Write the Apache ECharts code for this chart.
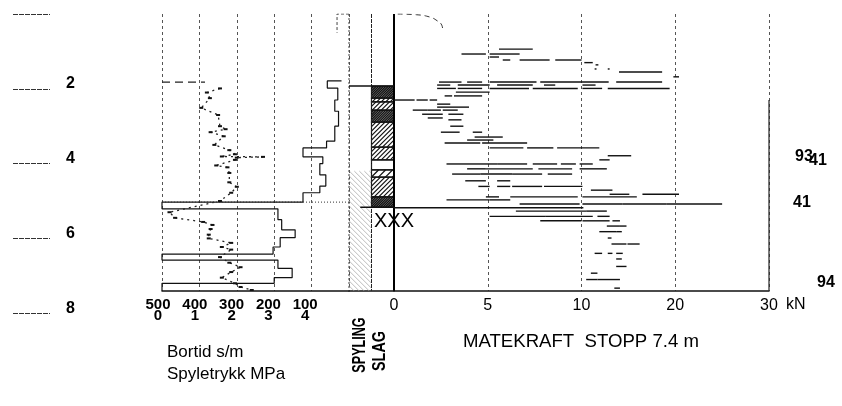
<!DOCTYPE html>
<html><head><meta charset="utf-8">
<script src="https://cdn.jsdelivr.net/npm/echarts@6.0.0/dist/echarts.min.js"></script>
<style>html,body{margin:0;padding:0;background:#fff}#c{width:842px;height:406px}</style>
</head><body><div id="c"></div>
<script>
// ---------------- DATA ----------------
const depthStop = 7.4;
const bortidTickLabels = ['500', '400', '300', '200', '100'];
const spyTickLabels = ['0', '1', '2', '3', '4'];
const mateTickLabels = ['0', '5', '10', '20', '30'];

// Bortid (s/m) vs depth (m)
const bortDepth = [1.99, 2.10, 2.25, 2.51, 2.70, 3.00, 3.08, 3.16, 3.27, 3.50, 3.64, 3.75, 3.81, 3.82, 3.84, 3.90, 4.05, 4.10, 4.25, 4.50, 4.62, 4.78, 5.00, 5.30, 5.45, 5.56, 5.64, 5.75, 5.90, 6.00, 6.12, 6.23, 6.30, 6.50, 6.65, 6.77, 6.90, 7.05, 7.20, 7.30, 7.38];
const bortValue = [345, 380, 372, 395, 350, 345, 330, 370, 335, 360, 320, 305, 340, 230, 300, 305, 355, 325, 320, 320, 300, 315, 345, 480, 465, 390, 365, 370, 375, 375, 315, 340, 315, 345, 320, 290, 315, 340, 305, 290, 260];
const bortTopDepth = [1.82, 1.82];
const bortTopValue = [500, 385];

// Spyletrykk (MPa) vs depth (m)
const spyDepth = [1.79, 1.79, 1.98, 1.98, 2.30, 2.30, 2.60, 2.60, 3.00, 3.00, 3.40, 3.40, 3.58, 3.58, 3.82, 3.82, 4.00, 4.00, 4.30, 4.30, 4.60, 4.60, 4.78, 4.78, 5.03, 5.03, 5.21, 5.21, 5.50, 5.50, 5.77, 5.77, 5.98, 5.98, 6.23, 6.23, 6.42, 6.42, 6.58, 6.58, 6.80, 6.80, 7.05, 7.05, 7.20, 7.20, 7.40];
const spyValue = [4.80, 4.42, 4.42, 4.70, 4.70, 4.62, 4.62, 4.72, 4.72, 4.62, 4.62, 4.40, 4.40, 3.77, 3.77, 4.30, 4.30, 4.22, 4.22, 4.38, 4.38, 4.22, 4.22, 3.77, 3.77, 0, 0, 3.10, 3.10, 3.20, 3.20, 3.56, 3.56, 3.16, 3.16, 2.97, 2.97, 0, 0, 3.10, 3.10, 3.48, 3.48, 3.00, 3.00, 0, 0];
const spyTopDepth = [0.0, 0.0, 0.5];
const spyTopValue = [5.0, 4.68, 4.68];

// Slag column layers: from, to (m), hatch class (0 none,1 light,2 normal,3 dense)
const slagFrom = [1.93, 2.25, 2.35, 2.57, 2.89, 3.56, 3.90, 4.17, 4.36, 4.89];
const slagTo   = [2.25, 2.35, 2.57, 2.89, 3.56, 3.90, 4.17, 4.36, 4.89, 5.16];
const slagClass = [3, 2, 2, 3, 2, 2, 0, 1, 2, 3];
// Spyling column (flushing on)
const spylingFrom = [4.2];
const spylingTo = [7.4];

// Matekraft (kN) horizontal traces at depth
const mateDepth = [0.94, 1.07, 1.07, 1.15, 1.23, 1.23, 1.23, 1.30, 1.36, 1.47, 1.47, 1.55, 1.68,
  1.82, 1.82, 1.82, 1.82, 1.82, 1.90, 1.90, 1.90, 1.90, 1.90, 1.99, 1.99, 1.99, 1.99, 1.99, 1.99,
  2.09, 2.19, 2.19, 2.30, 2.30, 2.30, 2.41, 2.49, 2.57, 2.57, 2.57, 2.68, 2.68, 2.78, 2.83, 3.00,
  3.16, 3.16, 3.29, 3.37, 3.45, 3.45, 3.58, 3.58, 3.58, 3.79, 3.90,
  4.01, 4.01, 4.01, 4.01, 4.01, 4.01, 4.14, 4.14, 4.14, 4.14, 4.28, 4.28, 4.28, 4.28, 4.46, 4.46,
  4.61, 4.61, 4.61, 4.61, 4.71, 4.82, 4.82, 4.89, 4.89, 4.89, 4.97, 4.97, 5.08, 5.08, 5.08, 5.08,
  5.18, 5.27, 5.27, 5.41, 5.41, 5.41, 5.53, 5.53, 5.53, 5.67, 5.67, 5.82, 5.82, 5.99, 6.15, 6.15,
  6.40, 6.40, 6.40, 6.55, 6.75, 6.93, 7.10, 7.10, 7.33];
const mateFrom = [5.6, 3.6, 5.1, 5.1, 5.8, 6.7, 8.6, 10.3, 11.5, 11.4, 12.8, 14.0, 19.8,
  2.4, 3.9, 5.1, 7.8, 13.7, 2.3, 3.4, 5.5, 8.0, 10.1, 2.3, 3.4, 5.1, 7.4, 10.1, 12.8,
  3.3, 2.7, 3.2, 0.0, 1.2, 1.9, 2.3, 2.3, 1.0, 1.8, 2.6, 1.5, 2.9, 1.8, 2.9, 3.0,
  2.5, 4.2, 4.3, 3.9, 2.7, 4.7, 5.1, 7.1, 8.7, 12.8, 11.9,
  2.8, 4.0, 5.5, 7.4, 8.9, 9.9, 3.9, 4.9, 7.7, 9.9, 3.1, 4.6, 6.3, 8.2, 3.8, 5.5,
  4.5, 5.5, 6.3, 8.0, 11.0, 13.0, 16.5, 4.9, 6.2, 10.1, 2.8, 5.1, 6.7, 10.1, 14.4, 19.1,
  0.0, 6.5, 10.5, 5.1, 8.1, 11.7, 7.8, 10.1, 13.3, 12.7, 14.1, 11.9, 13.7, 12.8, 13.2, 14.9,
  11.4, 12.8, 13.7, 13.7, 13.7, 11.0, 10.5, 11.7, 13.5];
const mateTo = [7.4, 4.9, 6.7, 5.6, 6.2, 8.3, 10.0, 11.2, 11.8, 11.6, 13.0, 18.6, 20.4,
  3.6, 4.7, 7.6, 12.9, 18.6, 3.0, 5.1, 7.4, 8.6, 11.5, 3.3, 4.7, 7.2, 9.8, 12.2, 19.4,
  5.1, 3.1, 4.7, 1.1, 1.8, 2.3, 3.0, 4.0, 1.8, 2.5, 3.4, 2.6, 3.7, 2.6, 3.6, 3.7,
  3.5, 4.7, 5.8, 5.3, 4.6, 7.1, 6.9, 8.5, 11.9, 15.3, 13.0,
  4.0, 5.5, 7.1, 8.7, 9.7, 11.2, 4.9, 7.4, 9.5, 12.7, 4.6, 6.3, 7.9, 9.5, 4.9, 6.2,
  5.1, 6.2, 7.9, 10.1, 13.3, 15.1, 20.4, 5.6, 9.8, 15.9, 5.1, 6.2, 9.9, 14.4, 19.1, 25.0,
  10.2, 10.5, 12.7, 8.1, 11.2, 13.0, 10.0, 13.0, 14.1, 14.1, 14.8, 13.7, 14.3, 13.2, 14.8, 16.2,
  12.2, 13.3, 14.4, 14.3, 14.8, 11.7, 11.7, 14.1, 14.1];
const mateTopDepth = [0.0, 0.02, 0.08, 0.18, 0.30, 0.43];
const mateTopValue = [0.2, 1.2, 1.9, 2.3, 2.55, 2.6];

// Depth annotations at right
const annDepth = [3.80, 3.92, 5.03, 7.18];
const annText = ['93', '41', '41', '94'];

// ---------------- CHART ----------------
const SANS = '"Liberation Sans",Arial,sans-serif';
const PXM = 37.4, TOP = 14, H = depthStop * PXM;

// matekraft axis: linear 0-10 kN, half scale 10-30 kN
const tf = v => v <= 10 ? v : 10 + (v - 10) / 2;

function segItem(params, api) {
  const d = api.value(0), a = api.value(1), b = api.value(2);
  const p1 = api.coord([a, d]), p2 = api.coord([b, d]);
  return { type: 'line', shape: { x1: p1[0], y1: p1[1], x2: p2[0], y2: p2[1] },
    style: { stroke: '#111', lineWidth: 1.4 } };
}
function hatch(x0, y0, x1, y1, sp, dir, stroke, lw) {
  const out = [], h = y1 - y0;
  for (let s = x0 - h; s < x1; s += sp) {
    const xa = Math.max(x0, s), xb = Math.min(x1, s + h);
    if (xa >= xb) continue;
    let ya, yb;
    if (dir === '/') { ya = y1 - (xa - s); yb = y1 - (xb - s); }
    else { ya = y0 + (xa - s); yb = y0 + (xb - s); }
    out.push({ type: 'line', shape: { x1: xa, y1: ya, x2: xb, y2: yb }, style: { stroke, lineWidth: lw } });
  }
  return out;
}
const spacing = [0, 7, 4.5, 2.4];

const chart = echarts.init(document.getElementById('c'), null, { renderer: 'canvas' });
const grids = [
  { left: 13, top: TOP, width: 37, height: 8 * PXM },     // depth ticks
  { left: 162, top: TOP, width: 187, height: H },         // bortid / spyletrykk
  { left: 349, top: TOP, width: 45, height: H },          // spyling / slag
  { left: 394, top: TOP, width: 375, height: H },         // matekraft
  { left: 158, top: TOP, width: 184, height: H }          // bortid tick labels
];
const hiddenY = (gi, max) => ({ type: 'value', gridIndex: gi, inverse: true, min: 0, max: max, show: false });
const baseLine = { show: true, onZero: false, lineStyle: { color: '#111', width: 1.5 } };
const numLabel = { margin: 7, fontFamily: SANS, fontSize: 15, fontWeight: 'bold', color: '#000',
  showMinLabel: true, showMaxLabel: true, hideOverlap: false };

const option = {
  animation: false,
  backgroundColor: '#fff',
  grid: grids,
  xAxis: [
    { type: 'value', gridIndex: 0, min: 0, max: 1, show: false },
    { type: 'value', gridIndex: 1, min: 0, max: 500, interval: 100, inverse: true, position: 'bottom',
      axisLine: baseLine, axisTick: { show: false }, axisLabel: { show: false },
      splitLine: { show: true, lineStyle: { color: '#555', type: [3, 3], width: 1 } } },
    { type: 'value', gridIndex: 1, min: 0, max: 5, show: false, position: 'bottom' },
    { type: 'value', gridIndex: 2, min: 0, max: 2, position: 'bottom', axisTick: { show: false }, axisLabel: { show: false },
      axisLine: baseLine, splitLine: { show: false } },
    { type: 'value', gridIndex: 3, min: 0, max: 20, interval: 5, position: 'bottom',
      axisLine: baseLine, axisTick: { show: false },
      axisLabel: { margin: 7, fontFamily: SANS, fontSize: 16, color: '#000', showMinLabel: true, showMaxLabel: true,
        formatter: v => mateTickLabels[Math.round(v / 5)] },
      splitLine: { show: true, lineStyle: { color: '#555', type: [3, 3], width: 1 } } },
    { type: 'value', gridIndex: 4, min: 0, max: 500, interval: 100, inverse: true, position: 'bottom',
      axisLine: { show: false, onZero: false }, axisTick: { show: false }, splitLine: { show: false },
      axisLabel: Object.assign({}, numLabel, { formatter: v => v === 0 ? '' : bortidTickLabels[5 - v / 100] }) },
    { type: 'value', gridIndex: 4, min: 0, max: 5, interval: 1, offset: 11, position: 'bottom',
      axisLine: { show: false, onZero: false }, axisTick: { show: false }, splitLine: { show: false },
      axisLabel: Object.assign({}, numLabel, { formatter: v => v === 5 ? '' : spyTickLabels[v] }) }
  ],
  yAxis: [
    { type: 'value', gridIndex: 0, inverse: true, min: 0, max: 8, interval: 2, position: 'right',
      axisLine: { show: false }, axisTick: { show: false },
      splitLine: { show: true, lineStyle: { color: '#333', width: 1, type: [5, 1] } },
      axisLabel: { margin: 16, fontFamily: SANS, fontSize: 16, fontWeight: 'bold', color: '#000',
        verticalAlign: 'bottom', lineHeight: 10, formatter: v => v === 0 ? '' : String(v) } },
    hiddenY(1, depthStop), hiddenY(2, depthStop), hiddenY(3, depthStop), hiddenY(4, depthStop)
  ],
  series: [
    // spyletrykk step curve
    { type: 'line', xAxisIndex: 2, yAxisIndex: 1, showSymbol: false, silent: true,
      data: spyDepth.map((d, i) => [spyValue[i], d]),
      lineStyle: { color: '#111', width: 1.2 } },
    { type: 'line', xAxisIndex: 2, yAxisIndex: 1, showSymbol: false, silent: true,
      data: spyTopDepth.map((d, i) => [spyTopValue[i], d]),
      lineStyle: { color: '#444', width: 1, type: [3, 2] } },
    // bortid
    { type: 'line', xAxisIndex: 1, yAxisIndex: 1, silent: true,
      symbol: 'rect', symbolSize: [4, 2], itemStyle: { color: '#111' },
      data: bortDepth.map((d, i) => [bortValue[i], d]),
      lineStyle: { color: '#222', width: 1.3, type: [2, 4] } },
    { type: 'line', xAxisIndex: 1, yAxisIndex: 1, showSymbol: false, silent: true,
      data: bortTopDepth.map((d, i) => [bortTopValue[i], d]),
      lineStyle: { color: '#222', width: 1.2, type: [8, 5] } },
    // dotted marker line at 5.03 across bortid panel
    { type: 'line', xAxisIndex: 1, yAxisIndex: 1, showSymbol: false, silent: true,
      data: [[500, 5.03], [0, 5.03]], lineStyle: { color: '#333', width: 1, type: [1, 2] } },
    // spyling hatch
    { type: 'custom', xAxisIndex: 3, yAxisIndex: 2, silent: true,
      data: spylingFrom.map((f, i) => [f, spylingTo[i]]),
      renderItem: (params, api) => {
        const p0 = api.coord([0, api.value(0)]), p1 = api.coord([1, api.value(1)]);
        return { type: 'group', children: hatch(p0[0], p0[1], p1[0], p1[1], 5, '\\', '#aaa', 0.8) };
      } },
    // slag layers
    { type: 'custom', xAxisIndex: 3, yAxisIndex: 2, silent: true,
      data: slagFrom.map((f, i) => [f, slagTo[i], slagClass[i]]),
      renderItem: (params, api) => {
        const p0 = api.coord([1, api.value(0)]), p1 = api.coord([2, api.value(1)]);
        const c = api.value(2);
        const kids = [{ type: 'rect', shape: { x: p0[0], y: p0[1], width: p1[0] - p0[0], height: p1[1] - p0[1] },
          style: { fill: c === 3 ? 'rgba(0,0,0,0.45)' : 'none', stroke: '#111', lineWidth: 1.2 } }];
        if (c > 0) kids.push(...hatch(p0[0], p0[1], p1[0], p1[1], spacing[c], '/', '#111', c === 3 ? 1.3 : 1.2));
        return { type: 'group', children: kids };
      } },
    // column edges
    { type: 'custom', xAxisIndex: 3, yAxisIndex: 2, silent: true,
      data: [[0], [1], [2]],
      renderItem: (params, api) => {
        const v = api.value(0);
        const a = api.coord([v, 0]), b = api.coord([v, depthStop]);
        const st = [{ stroke: '#444', lineWidth: 1, lineDash: [2, 2] },
                    { stroke: '#222', lineWidth: 1, lineDash: [4, 1] },
                    { stroke: '#000', lineWidth: 2 }][params.dataIndex];
        return { type: 'line', shape: { x1: a[0], y1: a[1], x2: b[0], y2: b[1] }, style: st };
      } },
    // column horizontal lines (slag top, stop line)
    { type: 'custom', xAxisIndex: 3, yAxisIndex: 2, silent: true,
      data: [[1.925, 0, 2], [5.17, 0.5, 2]],
      renderItem: (params, api) => {
        const a = api.coord([api.value(1), api.value(0)]), b = api.coord([api.value(2), api.value(0)]);
        return { type: 'line', shape: { x1: a[0], y1: a[1], x2: b[0], y2: b[1] }, style: { stroke: '#111', lineWidth: 1.5 } };
      } },
    // matekraft segments
    { type: 'custom', xAxisIndex: 4, yAxisIndex: 3, silent: true,
      data: mateDepth.map((d, i) => [d, tf(mateFrom[i]), tf(mateTo[i])]),
      renderItem: segItem },
    { type: 'line', xAxisIndex: 4, yAxisIndex: 3, showSymbol: false, silent: true, smooth: true,
      data: mateTopDepth.map((d, i) => [tf(mateTopValue[i]), d]),
      lineStyle: { color: '#333', width: 1, type: [5, 4] } },
    // 30 kN boundary (solid lower part)
    { type: 'custom', xAxisIndex: 4, yAxisIndex: 3, silent: true,
      data: [[2.3, 20, 7.4]],
      renderItem: (params, api) => {
        const a = api.coord([api.value(1), api.value(0)]), b = api.coord([api.value(1), api.value(2)]);
        return { type: 'line', shape: { x1: a[0], y1: a[1], x2: b[0], y2: b[1] }, style: { stroke: '#222', lineWidth: 1.2 } };
      } }
  ],
  graphic: [
    { type: 'text', x: 786, y: 305, style: { text: 'kN', fontFamily: SANS, fontSize: 16, fill: '#000', align: 'left', verticalAlign: 'middle' } },
    { type: 'text', x: 360, y: 345, rotation: Math.PI / 2, scaleX: 0.7, style: { text: 'SPYLING', fontFamily: SANS, fontSize: 18, fontWeight: 'bold', fill: '#000', align: 'center', verticalAlign: 'middle' } },
    { type: 'text', x: 380, y: 351, rotation: Math.PI / 2, scaleX: 0.8, style: { text: 'SLAG', fontFamily: SANS, fontSize: 18, fontWeight: 'bold', fill: '#000', align: 'center', verticalAlign: 'middle' } },
    { type: 'text', x: 167, y: 352, style: { text: 'Bortid s/m', fontFamily: SANS, fontSize: 17, fill: '#000', align: 'left', verticalAlign: 'middle' } },
    { type: 'text', x: 167, y: 374, style: { text: 'Spyletrykk MPa', fontFamily: SANS, fontSize: 17, fill: '#000', align: 'left', verticalAlign: 'middle' } },
    { type: 'text', x: 463, y: 342, style: { text: 'MATEKRAFT  STOPP 7.4 m', fontFamily: SANS, fontSize: 18.6, fill: '#000', align: 'left', verticalAlign: 'middle' } },
    { type: 'text', x: 394, y: 221, style: { text: 'XXX', fontFamily: SANS, fontSize: 20, fill: '#000', align: 'center', verticalAlign: 'middle' } }
  ].concat(annText.map((t, i) => ({
    type: 'text', x: [804, 818, 802, 826][i], y: TOP + annDepth[i] * PXM,
    style: { text: t, fontFamily: SANS, fontSize: 16, fontWeight: 'bold', fill: '#000', align: 'center', verticalAlign: 'middle' }
  })))
};
chart.setOption(option);
</script></body></html>
